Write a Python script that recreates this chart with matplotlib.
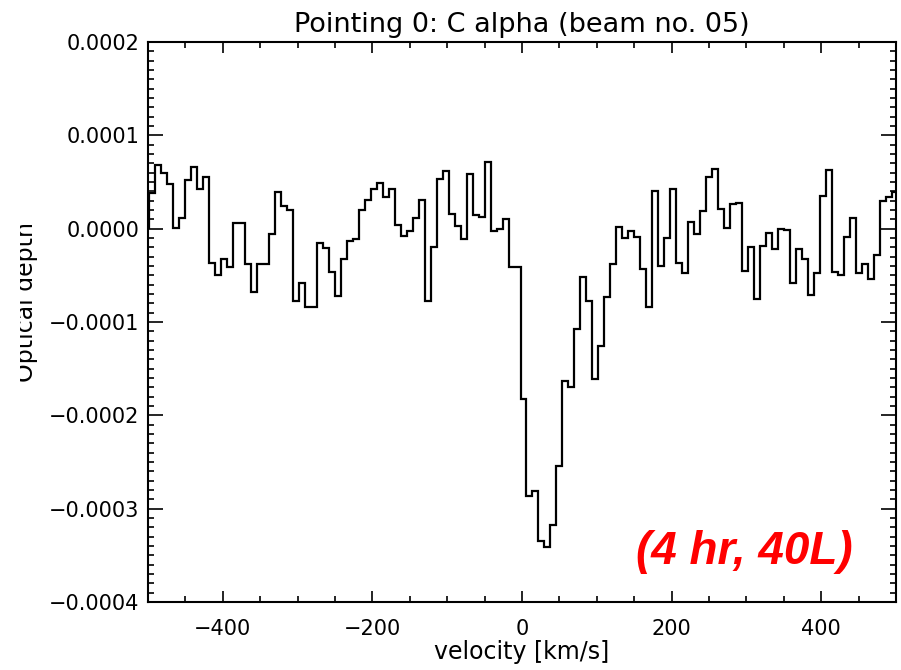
#!/usr/bin/env python3
"""
C alpha recombination line spectrum (pointing 0, beam 05) as an IDL-style histogram.
"""
import numpy as np
import matplotlib
matplotlib.use("Agg")
import matplotlib.pyplot as plt
from matplotlib.patches import Rectangle
from matplotlib.ticker import MultipleLocator, FuncFormatter

# channel setup: 8 km/s channels, first lower edge at -498 km/s
chan_width = 8.0
first_edge = -498.0

# optical depth per channel (units of 1e-4)
tau_1e4 = [
    0.38, 0.68, 0.60, 0.48, 0.01, 0.11, 0.52, 0.66, 0.42, 0.55,
    -0.37, -0.50, -0.33, -0.41, 0.06, 0.06, -0.38, -0.68, -0.38, -0.38,
    -0.06, 0.39, 0.24, 0.20, -0.77, -0.58, -0.84, -0.84, -0.15, -0.21,
    -0.46, -0.72, -0.32, -0.13, -0.11, 0.20, 0.31, 0.42, 0.49, 0.34,
    0.43, 0.04, -0.08, -0.02, 0.11, 0.31, -0.78, -0.20, 0.53, 0.62,
    0.16, 0.03, -0.11, 0.59, 0.15, 0.12, 0.71, -0.03, 0.00, 0.10,
    -0.41, -0.41, -1.83, -2.86, -2.81, -3.35, -3.41, -3.17, -2.54, -1.63,
    -1.70, -1.08, -0.52, -0.78, -1.61, -1.26, -0.73, -0.38, 0.02, -0.10,
    -0.02, -0.09, -0.43, -0.84, 0.40, -0.40, -0.10, 0.42, -0.37, -0.48,
    0.07, -0.06, 0.19, 0.55, 0.64, 0.21, 0.01, 0.26, 0.28, -0.45,
    -0.20, -0.75, -0.19, -0.05, -0.22, 0.00, -0.01, -0.58, -0.22, -0.32,
    -0.71, -0.47, 0.35, 0.63, -0.46, -0.50, -0.09, 0.11, -0.48, -0.38,
    -0.54, -0.28, 0.30, 0.34, 0.39,
]

x_ticks = [-400, -200, 0, 200, 400]
y_ticks = [-0.0004, -0.0003, -0.0002, -0.0001, 0.0000, 0.0001, 0.0002]

title = "Pointing 0: C alpha (beam no. 05)"
note = "(4 hr, 40L)"


def fmt_y(v, pos):
    s = f"{v:.4f}"
    if s.startswith("-"):
        s = "\u2212" + s[1:]
    if s == "\u22120.0000":
        s = "0.0000"
    return s


def fmt_x(v, pos):
    s = f"{v:.0f}"
    return s.replace("-", "\u2212")


def main():
    plt.rcParams["font.family"] = ["DejaVu Sans"]
    W, H = 901, 670
    fig = plt.figure(figsize=(W / 100, H / 100), dpi=100)
    ax = fig.add_axes([148 / W, 1 - 602 / H, (896 - 148) / W, (602 - 42) / H])

    tau = np.array(tau_1e4) * 1e-4
    edges = first_edge + chan_width * np.arange(len(tau) + 1)
    ax.stairs(tau, edges, color="black", linewidth=1.6)

    ax.set_xlim(-500, 500)
    ax.set_ylim(-0.0004, 0.0002)
    ax.set_xticks(x_ticks)
    ax.set_yticks(y_ticks)
    ax.xaxis.set_minor_locator(MultipleLocator(50))
    ax.yaxis.set_minor_locator(MultipleLocator(0.00001))
    ax.xaxis.set_major_formatter(FuncFormatter(fmt_x))
    ax.yaxis.set_major_formatter(FuncFormatter(fmt_y))

    for s in ax.spines.values():
        s.set_linewidth(1.5)
    ax.tick_params(axis="both", which="both", direction="in", top=True, right=True,
                   width=1.2, labelsize=15)
    ax.tick_params(axis="x", which="major", length=8, pad=12)
    ax.tick_params(axis="x", which="minor", length=4)
    ax.tick_params(axis="y", which="major", length=11, pad=6)
    ax.tick_params(axis="y", which="minor", length=4.5)

    ax.set_title(title, fontsize=19.5, pad=7)
    ax.set_xlabel("velocity [km/s]", fontsize=17, labelpad=1)

    fig.text(26 / W, 1 - 302 / H, "Optical depth", rotation=90, fontsize=17,
             ha="center", va="center", zorder=1)
    # original image is cropped through the axis label
    fig.patches.append(Rectangle((0, 0), 20 / W, 1, transform=fig.transFigure,
                                 facecolor="white", edgecolor="none", zorder=5))

    fig.text(744 / W, 1 - 552 / H, note, color="#ff0000", fontsize=33, fontweight="bold",
             fontstyle="italic", family="Liberation Sans", ha="center", va="center")

    fig.savefig("out.png", dpi=100)
    plt.close(fig)


if __name__ == "__main__":
    main()
